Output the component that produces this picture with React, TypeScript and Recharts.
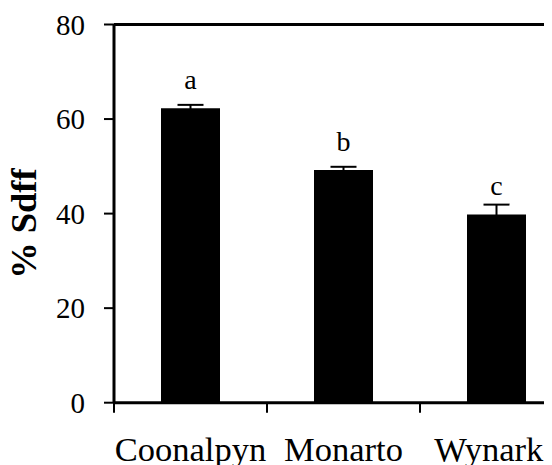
import React from 'react';
import { BarChart, Bar, XAxis, YAxis, ErrorBar, LabelList, ReferenceLine } from 'recharts';

const categories = ['Coonalpyn', 'Monarto', 'Wynarka'];
const values = [62.3, 49.2, 39.8];
const errors = [0.7, 0.7, 2.1];
const letters = ['a', 'b', 'c'];
const yTicks = [0, 20, 40, 60, 80];

const data = categories.map((name, i) => ({
  name,
  value: values[i],
  err: errors[i],
  letter: letters[i],
}));

const FONT = '"Liberation Serif", "Times New Roman", serif';

const XTick = (props: any) => {
  const { x, y, payload, index, width, visibleTicksCount } = props;
  const n = visibleTicksCount || categories.length;
  const half = width / n / 2;
  return (
    <g>
      <line x1={x - half} y1={y} x2={x - half} y2={y + 10} stroke="#000" strokeWidth={2} />
      {index === n - 1 && (
        <line x1={x + half} y1={y} x2={x + half} y2={y + 10} stroke="#000" strokeWidth={2} />
      )}
      <text x={x} y={y + 58.5} textAnchor="middle" fontFamily={FONT} fontSize={34.5} fill="#000">
        {payload.value}
      </text>
    </g>
  );
};

const YLabel = (props: any) => {
  const vb = props.viewBox || { y: 0, height: 0 };
  const cy = vb.y + vb.height / 2 + 10;
  const cx = 28;
  return (
    <text
      x={cx}
      y={cy}
      transform={`rotate(-90, ${cx}, ${cy})`}
      textAnchor="middle"
      fontFamily={FONT}
      fontWeight="bold"
      fontSize={36.5}
      fill="#000"
    >
      % Sdff
    </text>
  );
};

export default function App() {
  return (
    <div style={{ width: 544, height: 457, overflow: 'hidden' }}>
      <BarChart
        width={620}
        height={457}
        data={data}
        margin={{ top: 16.5, right: 55, bottom: 0, left: 0 }}
      >
        <XAxis
          dataKey="name"
          height={62.3}
          tickSize={0}
          tickMargin={0}
          tickLine={false}
          axisLine={{ stroke: '#000', strokeWidth: 3 }}
          tick={<XTick />}
          interval={0}
        />
        <YAxis
          width={106}
          domain={[0, 80]}
          ticks={yTicks}
          tickSize={10}
          tickMargin={19}
          axisLine={{ stroke: '#000', strokeWidth: 3 }}
          tickLine={{ stroke: '#000', strokeWidth: 2 }}
          tick={{ fontFamily: FONT, fontSize: 29, fill: '#000' }}
          label={<YLabel />}
        />
        <ReferenceLine y={80} stroke="#000" strokeWidth={3} />
        <Bar dataKey="value" fill="#000" barSize={59} isAnimationActive={false}>
          <ErrorBar dataKey="err" width={13} stroke="#000" strokeWidth={2} direction="y" />
          <LabelList
            dataKey="letter"
            position="top"
            offset={19.5}
            style={{ fontFamily: FONT, fontSize: 28, fill: '#000' }}
          />
        </Bar>
      </BarChart>
    </div>
  );
}
